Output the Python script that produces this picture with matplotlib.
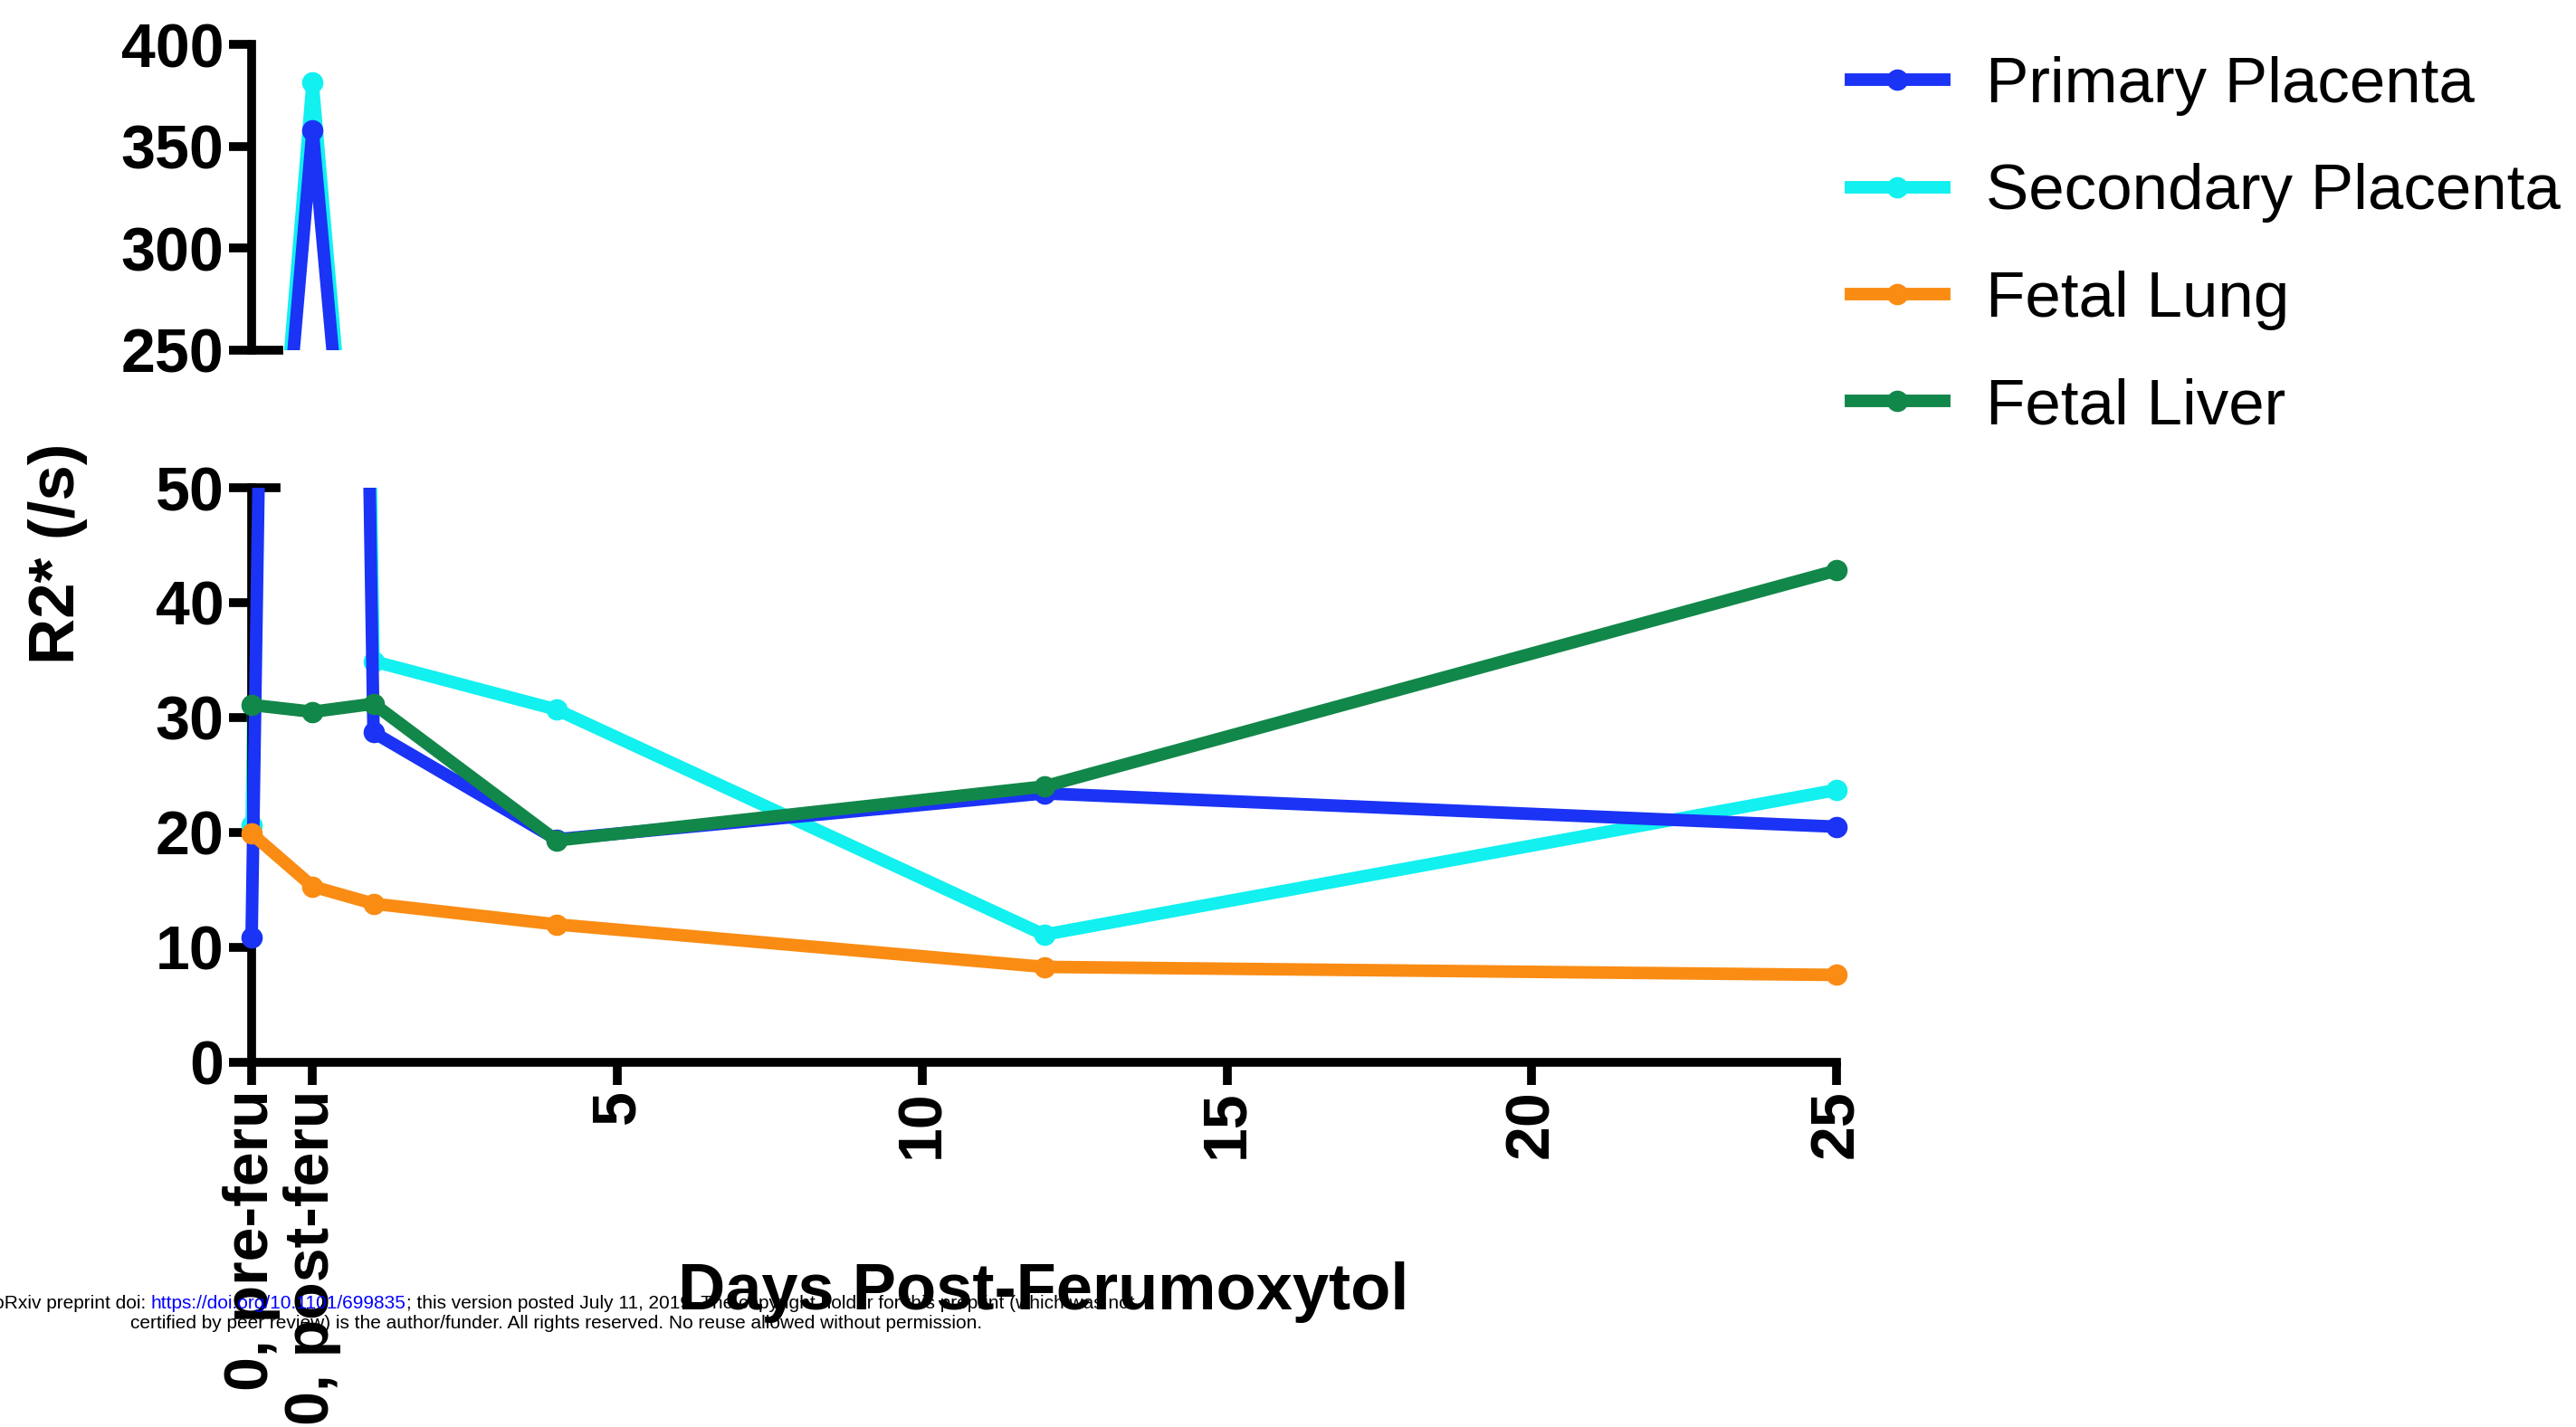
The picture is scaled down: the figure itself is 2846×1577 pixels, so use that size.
import matplotlib.pyplot as plt
from matplotlib.lines import Line2D

plt.rcParams['font.family'] = ['Liberation Sans', 'DejaVu Sans']

# data
days = [-1, 0, 1, 4, 12, 25]
primary = [10.9, 358, 28.7, 19.4, 23.4, 20.5]
secondary = [20.6, 381.5, 34.9, 30.7, 11.1, 23.7]
lung = [19.9, 15.3, 13.8, 12.0, 8.3, 7.6]
liver = [31.1, 30.5, 31.2, 19.3, 24.0, 42.8]

names = ['Primary Placenta', 'Secondary Placenta', 'Fetal Lung', 'Fetal Liver']
series = [primary, secondary, lung, liver]
colors = ['#1a33f5', '#12f0f0', '#fa8c14', '#12874a']
zorders = [3, 2, 4, 5]

xticks = [-1, 0, 5, 10, 15, 20, 25]
xticklabels = ['0, pre-feru', '0, post-feru', '5', '10', '15', '20', '25']
low_ticks = [0, 10, 20, 30, 40, 50]
high_ticks = [250, 300, 350, 400]

W, H = 2846, 1577
fig = plt.figure(figsize=(W / 100, H / 100), dpi=100)

left = 257.8 / W
width = (2049.2 - 257.8) / W
ax_b = fig.add_axes([left, 0.2556, width, 0.4026])
ax_t = fig.add_axes([left, 0.7546, width, 0.2143])

lw = 10
ms = 16
tick_font = dict(family='Liberation Sans', weight='bold', size=49)

for ax in (ax_b, ax_t):
    for s, c, z, n in zip(series, colors, zorders, names):
        ax.plot(days, s, color=c, lw=lw, marker='o', ms=ms, zorder=z, label=n)
    ax.set_xlim(-1.3, 25.3)
    ax.spines['left'].set_position(('data', -1))
    ax.spines['right'].set_visible(False)
    for sp in ax.spines.values():
        sp.set_linewidth(7)
    ax.tick_params(width=7, length=18, pad=4)
    ax.patch.set_visible(False)

# bottom panel
ax_b.set_ylim(0, 50)
ax_b.set_yticks(low_ticks)
ax_b.set_yticklabels([str(t) for t in low_ticks], **tick_font)
ax_b.set_xticks(xticks)
ax_b.set_xticklabels(xticklabels, rotation=90, va='top', ha='center', **tick_font)
ax_b.spines['bottom'].set_bounds(-1, 25)
ax_b.spines['top'].set_bounds(-1, -0.6)

# top panel
ax_t.set_ylim(250, 400)
ax_t.set_yticks(high_ticks)
ax_t.set_yticklabels([str(t) for t in high_ticks], **tick_font)
ax_t.set_xticks([])
ax_t.spines['top'].set_visible(False)
ax_t.spines['bottom'].set_bounds(-1, -0.55)

fig.text(64 / W, 1 - 612 / H, 'R2* (/s)', rotation=90, ha='center', va='center',
         family='Liberation Sans', weight='bold', size=51)
fig.text(1153 / W, 1 - 1428 / H, 'Days Post-Ferumoxytol', ha='center', va='center',
         family='Liberation Sans', weight='bold', size=52, zorder=10)

handles = [Line2D([], [], color=c, lw=lw, marker='o', ms=ms) for c in colors]
fig.legend(handles, names, loc='upper left', bbox_to_anchor=(2045 / W, 1 - 62 / H),
           frameon=False, prop=dict(family='Liberation Sans', size=51),
           handlelength=1.45, handletextpad=0.65, labelspacing=0.74,
           borderpad=0, borderaxespad=0)

# preprint footer
r = fig.canvas.get_renderer()
wm_size = 15
parts = [('bioRxiv preprint doi: ', 'black'),
         ('https://doi.org/10.1101/699835', 'blue'),
         ('; this version posted July 11, 2019. The copyright holder for this preprint (which was not', 'black')]
tmp = fig.text(0, 0, ''.join(p for p, _ in parts), size=wm_size)
total = tmp.get_window_extent(r).width
tmp.remove()
x = 615 - total / 2
for p, c in parts:
    t = fig.text(x / W, 1 - 1441 / H, p, size=wm_size, color=c, va='center')
    x += t.get_window_extent(r).width
fig.text(615 / W, 1 - 1463 / H,
         'certified by peer review) is the author/funder. All rights reserved. '
         'No reuse allowed without permission.', size=wm_size, ha='center', va='center')

fig.savefig('out.png', dpi=100)
